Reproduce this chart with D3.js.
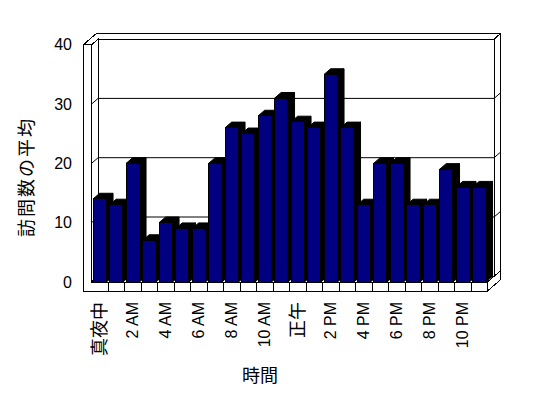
<!DOCTYPE html>
<html>
<head>
<meta charset="utf-8">
<script src="https://d3js.org/d3.v7.min.js"></script>
<style>
  body { margin: 0; background: #fff; }
  svg text { font-family: "Liberation Sans", "Noto Sans CJK JP", sans-serif; fill: #000; }
  .frame { fill: #fff; stroke: #000; stroke-width: 1; shape-rendering: crispEdges; }
  .grid { fill: none; stroke: #000; stroke-width: 1; }
</style>
</head>
<body>
<svg id="chart" width="548" height="398"></svg>
<script>
// hours of the day and average visits
const hours = ["真夜中", "1 AM", "2 AM", "3 AM", "4 AM", "5 AM", "6 AM", "7 AM", "8 AM", "9 AM", "10 AM", "11 AM",
               "正午", "1 PM", "2 PM", "3 PM", "4 PM", "5 PM", "6 PM", "7 PM", "8 PM", "9 PM", "10 PM", "11 PM"];
const visits = [14, 13, 20, 7, 10, 9, 9, 20, 26, 25, 28, 31, 27, 26, 35, 26, 13, 20, 20, 13, 13, 19, 16, 16];
const yTicks = [0, 10, 20, 30, 40];
const yTitle = "訪問数の平均";
const xTitle = "時間";

const svg = d3.select('svg#chart');

const xScale = d3.scaleBand().domain(hours).range([91.5, 487.5]).paddingInner(0.19).paddingOuter(0.095);
const yScale = d3.scaleLinear().domain([0, 40]).range([282, 44.8]);

// oblique depth: z=1 is the inner face of the back wall
const dx = 6.6, dy = -5.7, zOuter = 1.9;
const proj = (px, py, z) => [px + z * dx, py + z * dy];
const poly = pts => pts.map(p => p.join(',')).join(' ');

const x0 = xScale.range()[0], x1 = xScale.range()[1];
const wallOut = x0 - 8.2;
const yTop = yScale(40), yZero = yScale(0), yFloor = yZero + 9;

// back wall right side
svg.append('polygon').attr('class', 'frame')
   .attr('points', poly([proj(x1, yTop, 1), proj(x1, yTop, zOuter), proj(x1, yZero, zOuter), proj(x1, yZero, 1)]));
// wall tops
svg.append('polygon').attr('class', 'frame')
   .attr('points', poly([proj(wallOut, yTop, 0), proj(x0, yTop, 0), proj(x0, yTop, 1), proj(x1, yTop, 1),
                         proj(x1, yTop, zOuter), proj(wallOut, yTop, zOuter)]));
// back wall inner face
svg.append('polygon').attr('class', 'frame')
   .attr('points', poly([proj(x0, yTop, 1), proj(x1, yTop, 1), proj(x1, yZero, 1), proj(x0, yZero, 1)]));
// left wall inner face
svg.append('polygon').attr('class', 'frame')
   .attr('points', poly([proj(x0, yTop, 0), proj(x0, yTop, 1), proj(x0, yZero, 1), proj(x0, yZero, 0)]));

// gridlines
yTicks.filter(v => v > 0 && v < 40).forEach(v => {
    const yy = yScale(v);
    svg.append('polyline').attr('class', 'grid')
       .attr('points', poly([[wallOut, yy], proj(x0, yy, 0), proj(x0, yy, 1), proj(x1, yy, 1), proj(x1, yy, zOuter)]));
});

// floor top
svg.append('polygon').attr('class', 'frame')
   .attr('points', poly([proj(x0, yZero, 0), proj(x1, yZero, 0), proj(x1, yZero, 1), proj(x0, yZero, 1)]));
// floor right side
svg.append('polygon').attr('class', 'frame')
   .attr('points', poly([proj(x1, yZero, 0), proj(x1, yFloor, 0), proj(x1, yFloor, zOuter), proj(x1, yZero, zOuter)]));
// front of left wall + floor
svg.append('polygon').attr('class', 'frame')
   .attr('points', poly([[wallOut, yTop], [x0, yTop], [x0, yZero], [x1, yZero], [x1, yFloor], [wallOut, yFloor]]));
// floor ticks between categories
hours.slice(1).forEach(h => {
    const xx = xScale(h) - xScale.step() * xScale.paddingInner() / 2;
    svg.append('line').attr('class', 'frame')
       .attr('x1', xx).attr('x2', xx).attr('y1', yZero).attr('y2', yFloor);
});

// bars
const bw = xScale.bandwidth();
hours.forEach((h, i) => {
    const bx = xScale(h), by = yScale(visits[i]);
    svg.append('polygon').attr('fill', '#000').attr('stroke', '#000')
       .attr('points', poly([[bx + bw, by], proj(bx + bw, by, 1), proj(bx + bw, yZero, 1), [bx + bw, yZero]]));
    svg.append('polygon').attr('fill', '#000').attr('stroke', '#000')
       .attr('points', poly([[bx, by], proj(bx, by, 1), proj(bx + bw, by, 1), [bx + bw, by]]));
    svg.append('rect').attr('x', bx).attr('y', by).attr('width', bw).attr('height', yZero - by)
       .attr('fill', '#000080').attr('stroke', '#000').attr('shape-rendering', 'crispEdges');
});

// y axis labels
const yAxis = svg.append('g').attr('transform', 'translate(72,0)')
   .call(d3.axisLeft(yScale).tickValues(yTicks).tickSize(0).tickPadding(0));
yAxis.select('.domain').remove();
yAxis.selectAll('text').style('font-size', '16px').attr('font-family', null);

// x axis labels
const xAxis = svg.append('g').attr('transform', 'translate(0,302)')
   .call(d3.axisBottom(xScale).tickSize(0).tickFormat((d, i) => i % 2 ? '' : d));
xAxis.select('.domain').remove();
xAxis.selectAll('text').attr('font-family', null)
   .style('font-size', d => /[^\x00-\x7f]/.test(d) ? '18px' : '16px')
   .attr('transform', 'rotate(-90)').attr('x', 0).attr('y', 0).attr('dy', '0.35em')
   .style('text-anchor', 'end');

// titles
svg.append('text').attr('transform', 'translate(27,177) rotate(-90)')
   .attr('text-anchor', 'middle').attr('dy', '0.35em')
   .style('font-size', '18px').style('letter-spacing', '2px').text(yTitle);
svg.append('text').attr('x', 260).attr('y', 376).attr('dy', '0.35em')
   .attr('text-anchor', 'middle').style('font-size', '18px').text(xTitle);
</script>
</body>
</html>
